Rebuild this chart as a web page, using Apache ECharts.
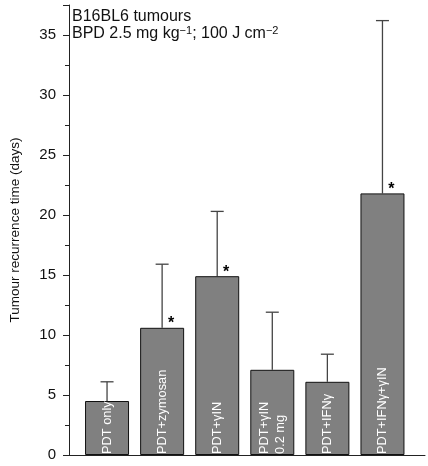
<!DOCTYPE html>
<html>
<head>
<meta charset="utf-8">
<script src="https://cdn.jsdelivr.net/npm/echarts@6/dist/echarts.min.js"></script>
<style>html,body{margin:0;padding:0;background:#fff;}#c{width:428px;height:466px;}</style>
</head>
<body>
<div id="c"></div>
<script>
const categories = ['PDT only', 'PDT+zymosan', 'PDT+\u03b3IN', 'PDT+\u03b3IN\n0.2 mg', 'PDT+IFN\u03b3', 'PDT+IFN\u03b3+\u03b3IN'];
const meanDays = [4.5, 10.6, 14.9, 7.1, 6.1, 21.8];
const errorDays = [1.6, 5.3, 5.4, 4.8, 2.3, 14.4];
const significant = [false, true, true, false, false, true];
const yTicks = [0, 5, 10, 15, 20, 25, 30, 35];

const FONT = 'Liberation Sans, Arial, Helvetica, sans-serif';
const chart = echarts.init(document.getElementById('c'), null, {renderer: 'canvas'});

const errData = categories.map((c, i) => [i, meanDays[i], meanDays[i] + errorDays[i], significant[i] ? 1 : 0]);

const option = {
  animation: false,
  backgroundColor: '#fff',
  textStyle: {fontFamily: FONT},
  grid: [
    {left: 62, right: 3, top: 5, bottom: 11, containLabel: false},
    {left: 79.5, right: 18, top: 5, bottom: 11, containLabel: false}
  ],
  xAxis: [
    {gridIndex: 0, type: 'value', min: 0, max: 1,
     axisLine: {show: true, lineStyle: {color: '#222', width: 1}},
     axisTick: {show: false}, axisLabel: {show: false}, splitLine: {show: false}},
    {gridIndex: 1, type: 'category', data: categories, show: false}
  ],
  yAxis: [
    {gridIndex: 0, type: 'value', min: 0, max: 37.5, interval: 5,
     name: 'Tumour recurrence time (days)', nameLocation: 'middle', nameGap: 47,
     nameTextStyle: {fontSize: 13.5, color: '#111', fontFamily: FONT},
     axisLine: {show: true, lineStyle: {color: '#222', width: 1}},
     axisTick: {show: true, length: 6, lineStyle: {color: '#222'}},
     minorTick: {show: true, splitNumber: 2, length: 4, lineStyle: {color: '#222'}},
     axisLabel: {fontSize: 15, color: '#111', margin: 13, fontFamily: FONT,
       formatter: v => (yTicks.indexOf(v) >= 0 ? String(v) : '')},
     splitLine: {show: false}},
    {gridIndex: 1, type: 'value', min: 0, max: 37.5, show: false}
  ],
  series: [
    {
      type: 'custom', xAxisIndex: 1, yAxisIndex: 1, z: 1,
      data: errData,
      renderItem: function (params, api) {
        const x = api.coord([api.value(0), 0])[0];
        const yTop = api.coord([api.value(0), api.value(1)])[1];
        const yErr = api.coord([api.value(0), api.value(2)])[1];
        const children = [
          {type: 'line', shape: {x1: x, y1: yTop, x2: x, y2: yErr}, style: {stroke: '#444', lineWidth: 1.3}},
          {type: 'line', shape: {x1: x - 6.5, y1: yErr, x2: x + 6.5, y2: yErr}, style: {stroke: '#444', lineWidth: 1.3}}
        ];
        if (api.value(3)) {
          children.push({type: 'text', x: x + 9, y: yTop - 4,
            style: {text: '*', fontSize: 16, fontWeight: 'bold', fontFamily: FONT, fill: '#000', align: 'center', verticalAlign: 'middle'}});
        }
        return {type: 'group', children: children};
      }
    },
    {
      type: 'bar', xAxisIndex: 1, yAxisIndex: 1, z: 2,
      data: meanDays,
      barWidth: 44,
      itemStyle: {color: '#808080', borderColor: '#111', borderWidth: 1},
      label: {
        show: true, position: 'insideBottom', rotate: 90, distance: 1,
        align: 'left', verticalAlign: 'middle', overflow: 'none',
        formatter: p => p.name,
        color: '#fff', fontSize: 12.8, lineHeight: 16, fontFamily: FONT
      }
    }
  ],
  graphic: [
    {type: 'text', left: 72, top: 8,
     style: {
       text: 'B16BL6 tumours\nBPD 2.5 mg kg{s|\u22121}; 100 J cm{s|\u22122}',
       fontSize: 16, lineHeight: 17, fontFamily: FONT, fill: '#111',
       rich: {s: {fontSize: 11, verticalAlign: 'top', fontFamily: FONT, fill: '#111', lineHeight: 12}}
     }}
  ]
};
chart.setOption(option);
</script>
</body>
</html>
